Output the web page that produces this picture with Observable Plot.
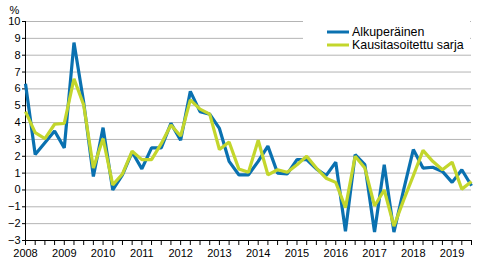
<!DOCTYPE html>
<html>
<head>
<meta charset="utf-8">
<script src="https://cdn.jsdelivr.net/npm/d3@7"></script>
<script src="https://cdn.jsdelivr.net/npm/@observablehq/plot@0.6"></script>
<style>
  html, body { margin: 0; padding: 0; background: #fff; }
  svg { display: block; }
</style>
</head>
<body>
<div id="chart"></div>
<script>
const years = ["2008","2009","2010","2011","2012","2013","2014","2015","2016","2017","2018","2019"];
const quarters = ["Q1","Q2","Q3","Q4"];
const periods = [];
for (const y of years) for (const q of quarters) periods.push(y + q);
periods.length = 47; // 2008Q1 .. 2019Q3

const alkuperainen = [6.3,2.1,2.8,3.5,2.5,8.75,5.2,0.8,3.7,0.0,0.9,2.25,1.25,2.5,2.5,3.95,2.95,5.85,4.65,4.5,3.65,1.7,0.9,0.9,1.7,2.6,1.0,0.95,1.8,1.8,1.25,0.85,1.65,-2.45,2.1,1.5,-2.5,1.5,-2.5,0.0,2.4,1.3,1.35,1.1,0.45,1.2,0.25];
const kausitasoitettu = [4.65,3.4,3.05,3.9,3.95,6.6,5.05,1.3,3.05,0.3,0.95,2.3,1.8,1.8,2.75,3.85,3.2,5.35,4.8,4.5,2.4,2.85,1.25,1.05,2.95,0.9,1.2,1.05,1.5,2.0,1.3,0.7,0.45,-1.05,2.0,1.3,-0.95,0.0,-2.15,-0.6,0.85,2.35,1.7,1.2,1.65,0.05,0.5];
const seriesNames = ["Alkuperäinen", "Kausitasoitettu sarja"];
const yTicks = [-3,-2,-1,0,1,2,3,4,5,6,7,8,9,10];

const colors = ["#0a71b0", "#c3d62c"];
const font = "'Liberation Sans', Arial, sans-serif";

const rows = (vals, s) => vals.map((v, i) => ({i, period: periods[i], value: v, series: s}));
const dataA = rows(alkuperainen, seriesNames[0]);
const dataK = rows(kausitasoitettu, seriesNames[1]);
const qIdx = periods.map((p, i) => i);
const yearIdx = years.map((y, k) => k * 4);

const plot = Plot.plot({
  width: 491,
  height: 264,
  marginLeft: 25,
  marginRight: 20,
  marginTop: 21,
  marginBottom: 24,
  style: {fontFamily: font, fontSize: "11px", color: "#000", background: "#fff"},
  x: {type: "linear", domain: [0, 46]},
  y: {domain: [-3, 10]},
  marks: [
    Plot.gridY(yTicks.filter(t => t > -3), {stroke: "#b4b4b4", strokeOpacity: 1, strokeWidth: 1}),
    Plot.axisY(yTicks, {tickSize: 3, tickPadding: 2, label: null, stroke: "#000", fill: "#000", fontSize: 11}),
    Plot.axisX(qIdx, {tickSize: 5, tickFormat: () => "", label: null, stroke: "#000"}),
    Plot.axisX(yearIdx, {tickSize: 0, tickPadding: 9, tickFormat: i => years[i / 4], label: null, fill: "#000", fontSize: 11}),
    Plot.ruleX([0], {y1: -3, y2: 10, stroke: "#000"}),
    Plot.ruleY([-3], {stroke: "#000"}),
    Plot.line(dataA, {x: "i", y: "value", stroke: colors[0], strokeWidth: 3.2, strokeLinejoin: "miter", strokeLinecap: "butt"}),
    Plot.line(dataK, {x: "i", y: "value", stroke: colors[1], strokeWidth: 3.2, strokeLinejoin: "miter", strokeLinecap: "butt"}),
    Plot.text(["%"], {frameAnchor: "top-left", dx: -11, dy: -15, fill: "#000", fontSize: 11, textAnchor: "middle"})
  ]
});

// Legend inside the plot area (upper right)
const svg = d3.select(plot);
const g = svg.append("g").attr("font-family", font).attr("font-size", 12.4).attr("text-anchor", "start");
g.append("rect").attr("x", 303).attr("y", 14).attr("width", 167).attr("height", 36).attr("fill", "#fff");
seriesNames.forEach((name, k) => {
  const yy = 32 + k * 13;
  g.append("line").attr("x1", 327).attr("x2", 349).attr("y1", yy).attr("y2", yy)
    .attr("stroke", colors[k]).attr("stroke-width", 3);
  g.append("text").attr("x", 352).attr("y", yy).attr("dy", "0.35em").attr("fill", "#000")
    .attr("text-anchor", "start").text(name);
});

document.getElementById("chart").appendChild(plot);
</script>
</body>
</html>
